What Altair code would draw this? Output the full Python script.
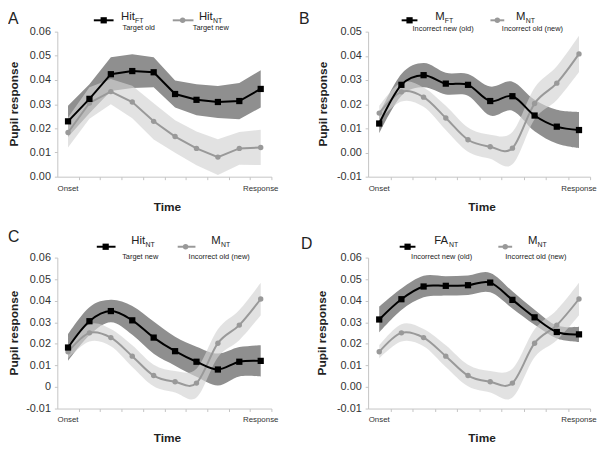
import altair as alt
import pandas as pd

# ---------------- data ----------------
time_bins = [0.5, 1.5, 2.5, 3.5, 4.5, 5.5, 6.5, 7.5, 8.5, 9.5]
x_tick_values = [1, 2, 3, 4, 5, 6, 7, 8, 9, 10]
time_labels = ["Onset", "Response"]

hit_ft = [0.0229, 0.0322, 0.0424, 0.0437, 0.0432, 0.0342, 0.0318, 0.0309, 0.0313, 0.0363]
hit_ft_err = [0.0065, 0.006, 0.007, 0.007, 0.0062, 0.0056, 0.0064, 0.0066, 0.0075, 0.0077]

hit_nt = [0.0183, 0.0305, 0.0352, 0.0309, 0.0229, 0.0166, 0.0117, 0.0081, 0.0117, 0.0121]
hit_nt_err = [0.0062, 0.0065, 0.0052, 0.0067, 0.0075, 0.0067, 0.007, 0.0074, 0.0068, 0.0073]

m_ft = [0.0120, 0.0280, 0.0320, 0.0285, 0.0280, 0.0213, 0.0233, 0.0153, 0.0107, 0.0093]
m_ft_err = [0.004, 0.0045, 0.005, 0.0045, 0.0045, 0.006, 0.006, 0.0065, 0.007, 0.0075]

m_nt = [0.0163, 0.0251, 0.0229, 0.0143, 0.0053, 0.0024, 0.0018, 0.0203, 0.0287, 0.0408]
m_nt_err = [0.003, 0.004, 0.004, 0.005, 0.005, 0.005, 0.0067, 0.0065, 0.007, 0.0075]

fa_nt = [0.0313, 0.0407, 0.0466, 0.0469, 0.0472, 0.0484, 0.0404, 0.0323, 0.0255, 0.0244]
fa_nt_err = [0.006, 0.005, 0.005, 0.0045, 0.0045, 0.0045, 0.004, 0.0035, 0.003, 0.0035]

y_ticks_a = [0.0, 0.01, 0.02, 0.03, 0.04, 0.05, 0.06]
y_ticks_b = [-0.01, 0.0, 0.01, 0.02, 0.03, 0.04, 0.05]
y_ticks_cd = [-0.01, 0.0, 0.01, 0.02, 0.03, 0.04, 0.05, 0.06]

# legend texts: (main, subscript, description)
leg_hit_ft = ("Hit", "FT", "Target old")
leg_hit_nt = ("Hit", "NT", "Target new")
leg_m_ft = ("M", "FT", "Incorrect new (old)")
leg_m_nt = ("M", "NT", "Incorrect old (new)")
leg_fa_nt = ("FA", "NT", "Incorrect new (old)")

# ---------------- styling ----------------
FONT = "Liberation Sans"
AXC = "#c4c4c4"
DARK = "#8f8f8f"
LIGHT = "#d2d2d2"
GRAY = "#999999"
TXT = "#222222"


def frame(mean, err):
    return pd.DataFrame({
        "t": time_bins,
        "mean": mean,
        "lo": [m - e for m, e in zip(mean, err)],
        "hi": [m + e for m, e in zip(mean, err)],
    })


def panel(letter, dark, light, leg_dark, leg_light, ydom, yvals, w, h,
          interp, zero_plain, lay):
    xs = alt.Scale(domain=[0, 10], nice=False, zero=False)
    ys = alt.Scale(domain=ydom, nice=False, zero=False)
    xax = alt.Axis(values=x_tick_values, labels=False, title=None, grid=False,
                   tickSize=3, domainColor=AXC, tickColor=AXC, domainWidth=1)
    if zero_plain:
        lexpr = ("abs(datum.value) < 1e-9 ? '0' : (datum.value < 0 ? '-' + "
                 "format(-datum.value, '.2f') : format(datum.value, '.2f'))")
    else:
        lexpr = ("datum.value < 0 ? '-' + format(-datum.value, '.2f') : "
                 "format(datum.value, '.2f')")
    yax = alt.Axis(values=yvals, labelExpr=lexpr, title=None, grid=False,
                   tickSize=3, labelPadding=4, labelFontSize=11, labelColor="#333333",
                   labelFont=FONT, domainColor=AXC, tickColor=AXC)
    X = alt.X("t:Q", scale=xs, axis=xax)

    ddf = frame(*dark)
    ldf = frame(*light)
    deco = pd.DataFrame({"k": [0]})

    layers = [
        alt.Chart(ddf).mark_area(color=DARK, opacity=1, interpolate=interp).encode(
            x=X, y=alt.Y("lo:Q", scale=ys, axis=yax), y2="hi:Q"),
        alt.Chart(ldf).mark_area(color=LIGHT, opacity=0.65, interpolate=interp).encode(
            x=X, y=alt.Y("lo:Q", scale=ys, axis=yax), y2="hi:Q"),
        alt.Chart(ldf).mark_line(color=GRAY, strokeWidth=2, interpolate=interp).encode(
            x=X, y=alt.Y("mean:Q", scale=ys, axis=yax)),
        alt.Chart(ldf).mark_point(shape="circle", filled=True, size=30, color=GRAY,
                                  opacity=1).encode(
            x=X, y=alt.Y("mean:Q", scale=ys, axis=yax)),
        alt.Chart(ddf).mark_line(color="black", strokeWidth=2, interpolate=interp).encode(
            x=X, y=alt.Y("mean:Q", scale=ys, axis=yax)),
        alt.Chart(ddf).mark_point(shape="square", filled=True, size=40, color="black",
                                  opacity=1).encode(
            x=X, y=alt.Y("mean:Q", scale=ys, axis=yax)),
    ]

    # time labels under the axis
    tl = pd.DataFrame({"t": [time_bins[0], time_bins[-1]], "lab": time_labels})
    layers.append(
        alt.Chart(tl).mark_text(fontSize=8, font=FONT, color="#333333", align="center",
                                baseline="alphabetic").encode(
            x=X, y=alt.value(h + lay["onset_y"]), text="lab:N",
            xOffset=alt.value(0)))

    def txt(s, x, y, size, align="left", bold=False, angle=0, baseline="alphabetic"):
        kw = dict(text=s, fontSize=size, font=FONT, color=TXT, align=align,
                  baseline=baseline)
        if bold:
            kw["fontWeight"] = "bold"
        if angle:
            kw["angle"] = angle
        return alt.Chart(deco).mark_text(**kw).encode(x=alt.value(x), y=alt.value(y))

    # panel letter and axis titles
    layers.append(txt(letter, lay["letter_x"], lay["letter_y"], 16))
    layers.append(txt("Pupil response", lay["ytitle_x"], h / 2, 12, align="center",
                      bold=True, angle=270, baseline="middle"))
    layers.append(txt("Time", w / 2 + 3, h + lay["time_y"], 12, align="center", bold=True))

    # legend
    ly = lay["line_y"]
    for item, col, shape, (l1, l2, mx, tx, sx, dcx) in (
        (leg_dark, "black", "square", lay["leg1"]),
        (leg_light, GRAY, "circle", lay["leg2"]),
    ):
        layers.append(alt.Chart(deco).mark_rule(color=col, strokeWidth=2).encode(
            x=alt.value(l1), x2=alt.value(l2), y=alt.value(ly)))
        layers.append(alt.Chart(deco).mark_point(shape=shape, filled=True, opacity=1,
                                                 size=40 if shape == "square" else 30,
                                                 color=col).encode(
            x=alt.value(mx), y=alt.value(ly)))
        layers.append(txt(item[0], tx, lay["main_y"], 11.5))
        layers.append(txt(item[1], sx, lay["sub_y"], 7))
        layers.append(txt(item[2], dcx, lay["desc_y"], 7.5, align="center"))

    return alt.layer(*layers).properties(width=w, height=h)


lay_a = dict(letter_x=-50, letter_y=-8, ytitle_x=-44, onset_y=15, time_y=35,
             line_y=-11.5, main_y=-11.5, sub_y=-9, desc_y=-1.5,
             leg1=(37, 57, 47, 64.5, 78.8, 82.5), leg2=(117, 138, 127, 143.5, 157.8, 155.5))
lay_b = dict(letter_x=-70, letter_y=-8, ytitle_x=-46, onset_y=15, time_y=35,
             line_y=-11.5, main_y=-11.5, sub_y=-9, desc_y=-1,
             leg1=(34, 50, 42, 68, 77.8, 76), leg2=(124, 138, 131, 150, 159.8, 166.5))
lay_c = dict(letter_x=-50, letter_y=-16, ytitle_x=-44, onset_y=14, time_y=34,
             line_y=-11, main_y=-14, sub_y=-10.5, desc_y=1.5,
             leg1=(40, 59, 49, 75, 89.3, 84), leg2=(122, 140, 130, 156, 165.8, 164))
lay_d = dict(letter_x=-68, letter_y=-9, ytitle_x=-47, onset_y=14, time_y=34,
             line_y=-11, main_y=-14, sub_y=-10.5, desc_y=1.5,
             leg1=(32, 48, 40, 67, 82, 74.5), leg2=(132, 146, 139, 162, 171.8, 170))

pa = panel("A", (hit_ft, hit_ft_err), (hit_nt, hit_nt_err), leg_hit_ft, leg_hit_nt,
           [0, 0.06], y_ticks_a, 217, 147, "linear", False, lay_a)
pb = panel("B", (m_ft, m_ft_err), (m_nt, m_nt_err), leg_m_ft, leg_m_nt,
           [-0.01, 0.05], y_ticks_b, 225, 147, "cardinal", False, lay_b)
pc = panel("C", (hit_nt, hit_nt_err), (m_nt, m_nt_err), leg_hit_nt, leg_m_nt,
           [-0.01, 0.06], y_ticks_cd, 217, 153, "cardinal", True, lay_c)
pd_ = panel("D", (fa_nt, fa_nt_err), (m_nt, m_nt_err), leg_fa_nt, leg_m_nt,
            [-0.01, 0.06], y_ticks_cd, 225, 153, "cardinal", False, lay_d)

chart = alt.concat(pa, pb, pc, pd_, columns=2, spacing={"row": 82, "column": 98},
                   bounds="flush", align="each").properties(padding=0).configure_view(
    stroke=None).configure_axis(labelFont=FONT)

chart.save("out.html", embed_options={"renderer": "svg", "actions": False})
